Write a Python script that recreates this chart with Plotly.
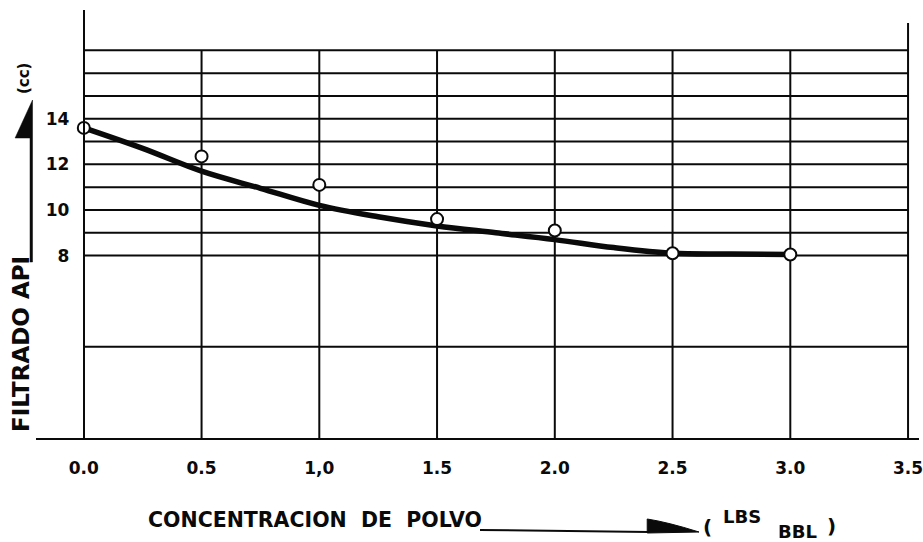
import plotly.graph_objects as go

# Measured filtrate volumes (cc) against dust concentration (lbs/bbl)
conc_points = [0.0, 0.5, 1.0, 1.5, 2.0, 2.5, 3.0]
filtrate_points = [13.6, 12.35, 11.1, 9.6, 9.1, 8.1, 8.05]

# Smoothed trend curve drawn through the measurements
conc_curve = [0.0, 0.25, 0.5, 0.75, 1.0, 1.25, 1.5, 1.75, 2.0, 2.25, 2.5, 2.75, 3.0]
filtrate_curve = [13.6, 12.7, 11.7, 10.95, 10.2, 9.7, 9.3, 9.0, 8.7, 8.35, 8.1, 8.07, 8.05]

x_tick_vals = [0.0, 0.5, 1.0, 1.5, 2.0, 2.5, 3.0, 3.5]
x_tick_text = ["0.0", "0.5", "1,0", "1.5", "2.0", "2.5", "3.0", "3.5"]
y_tick_vals = [8, 10, 12, 14]
y_tick_text = ["8", "10", "12", "14"]

h_grid = [4, 8, 9, 10, 11, 12, 13, 14, 15, 16, 17]
v_grid = [0.5, 1.0, 1.5, 2.0, 2.5, 3.0]

W, H = 923, 542
ML, MR, MT, MB = 36, 0, 10, 104
PW, PH = W - ML - MR, H - MT - MB

X_RANGE = [-0.203, 3.5465]
Y_RANGE = [0, 18.77]
INK = "#0a0a0a"
FONT = "DejaVu Sans"


def px(xp):
    return (xp - ML) / PW


def py(yp):
    return (MT + PH - yp) / PH


def poly(points):
    head = "M " + " L ".join(f"{px(a)},{py(b)}" for a, b in points)
    return head + " Z"


fig = go.Figure()

fig.add_trace(go.Scatter(
    x=conc_curve, y=filtrate_curve, mode="lines",
    line=dict(color=INK, width=5.5, shape="spline", smoothing=1.0),
    hoverinfo="skip", showlegend=False,
))
fig.add_trace(go.Scatter(
    x=conc_points, y=filtrate_points, mode="markers",
    marker=dict(symbol="circle", size=12, color="white",
                line=dict(color=INK, width=2)),
    showlegend=False,
))

shapes = []
for yv in h_grid:
    shapes.append(dict(type="line", xref="x", yref="y", x0=0, x1=3.5, y0=yv, y1=yv,
                       line=dict(color=INK, width=2), layer="below"))
for xv in v_grid:
    shapes.append(dict(type="line", xref="x", yref="y", x0=xv, x1=xv, y0=0, y1=17,
                       line=dict(color=INK, width=2), layer="below"))
shapes.append(dict(type="line", xref="x", yref="y", x0=3.5, x1=3.5, y0=0, y1=18.2,
                   line=dict(color=INK, width=2), layer="below"))

# Y-title arrow: half-wedge head and long stem as one filled outline
shapes.append(dict(type="path", xref="paper", yref="paper",
                   path=poly([(15, 138), (30, 138), (30, 262), (32.5, 262), (32.5, 100)]),
                   fillcolor=INK, line=dict(color=INK, width=0.5)))

# X-title arrow: underline running into a solid wedge
shapes.append(dict(type="path", xref="paper", yref="paper",
                   path=f"M {px(482)},{py(530)} L {px(652)},{py(532)}",
                   line=dict(color=INK, width=2)))
shapes.append(dict(type="path", xref="paper", yref="paper",
                   path=(f"M {px(650)},{py(519)} Q {px(670)},{py(522)} {px(702)},{py(532)} "
                         f"L {px(650)},{py(533)} Z"),
                   fillcolor=INK, line=dict(color=INK, width=1)))

annotations = [
    dict(text="FILTRADO API", xref="paper", yref="paper", x=px(21), y=py(344),
         textangle=-90, showarrow=False, xanchor="center", yanchor="middle",
         font=dict(family=FONT, size=23, color=INK, weight="bold")),
    dict(text="(cc)", xref="paper", yref="paper", x=px(24), y=py(78),
         textangle=-90, showarrow=False, xanchor="center", yanchor="middle",
         font=dict(family=FONT, size=15, color=INK, weight="bold")),
    dict(text="CONCENTRACION  DE  POLVO", xref="paper", yref="paper", x=px(146), y=py(520),
         showarrow=False, xanchor="left", yanchor="middle",
         font=dict(family=FONT, size=20.5, color=INK, weight="bold")),
    dict(text="(", xref="paper", yref="paper", x=px(711), y=py(527),
         showarrow=False, xanchor="center", yanchor="middle",
         font=dict(family=FONT, size=20, color=INK, weight="bold")),
    dict(text="LBS", xref="paper", yref="paper", x=px(745), y=py(516),
         showarrow=False, xanchor="center", yanchor="middle",
         font=dict(family=FONT, size=18, color=INK, weight="bold")),
    dict(text="BBL", xref="paper", yref="paper", x=px(801), y=py(531),
         showarrow=False, xanchor="center", yanchor="middle",
         font=dict(family=FONT, size=18, color=INK, weight="bold")),
    dict(text=")", xref="paper", yref="paper", x=px(835), y=py(526),
         showarrow=False, xanchor="center", yanchor="middle",
         font=dict(family=FONT, size=20, color=INK, weight="bold")),
]

fig.update_layout(
    width=W, height=H,
    margin=dict(l=ML, r=MR, t=MT, b=MB),
    paper_bgcolor="white", plot_bgcolor="white",
    showlegend=False,
    shapes=shapes,
    annotations=annotations,
    xaxis=dict(
        range=X_RANGE, showgrid=False, zeroline=False,
        showline=True, linecolor=INK, linewidth=2,
        tickmode="array", tickvals=x_tick_vals, ticktext=x_tick_text,
        ticks="", ticklabelstandoff=14, ticklabeloverflow="allow",
        tickfont=dict(family=FONT, size=17, color=INK, weight="bold"),
        fixedrange=True,
    ),
    yaxis=dict(
        range=Y_RANGE, showgrid=False, zeroline=False,
        anchor="free", position=px(84),
        showline=True, linecolor=INK, linewidth=2,
        tickmode="array", tickvals=y_tick_vals, ticktext=y_tick_text,
        ticks="", ticklabelstandoff=10,
        tickfont=dict(family=FONT, size=17, color=INK, weight="bold"),
        fixedrange=True,
    ),
)

fig.write_html("out.html")
